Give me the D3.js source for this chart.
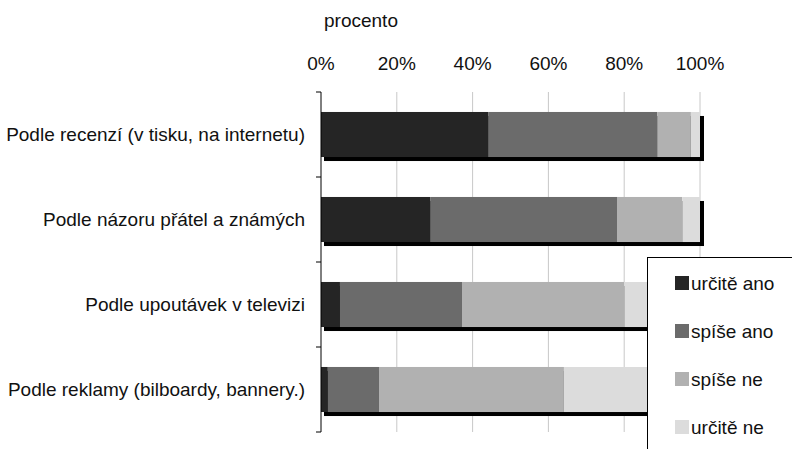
<!DOCTYPE html>
<html>
<head>
<meta charset="utf-8">
<script src="https://cdn.jsdelivr.net/npm/d3@7"></script>
<style>
  body { margin: 0; background: #fff; }
  text { font-family: "Liberation Sans", Arial, sans-serif; fill: #111; }
</style>
</head>
<body>
<div id="chart"></div>
<script>
// Data
const categories = [
  "Podle recenzí (v tisku, na internetu)",
  "Podle názoru přátel a známých",
  "Podle upoutávek v televizi",
  "Podle reklamy (bilboardy, bannery.)"
];
const seriesNames = ["určitě ano", "spíše ano", "spíše ne", "určitě ne"];
const urciteAno = [44.1, 28.8, 5.0, 1.8];
const spiseAno  = [44.6, 49.3, 32.2, 13.5];
const spiseNe   = [8.9, 17.2, 42.8, 48.8];
const urciteNe  = [2.4, 4.7, 20.0, 35.9];
const tickValues = [0, 20, 40, 60, 80, 100];
const colors = ["#252525", "#6b6b6b", "#b1b1b1", "#dcdcdc"];

const rows = categories.map((c, i) => ({
  category: c,
  "určitě ano": urciteAno[i],
  "spíše ano": spiseAno[i],
  "spíše ne": spiseNe[i],
  "určitě ne": urciteNe[i]
}));

// Dimensions
const width = 792;
const height = 449;
const margin = { top: 92, right: 92, bottom: 17, left: 321 };
const fontSize = 19;

const svg = d3.select("#chart")
  .append("svg")
    .attr("width", width)
    .attr("height", height);

const x = d3.scaleLinear()
  .domain([0, 100])
  .range([margin.left, width - margin.right]);

const y = d3.scaleBand()
  .domain(categories)
  .range([margin.top, height - margin.bottom])
  .paddingInner(0.47)
  .paddingOuter(0.235);

const color = d3.scaleOrdinal()
  .domain(seriesNames)
  .range(colors);

const stacked = d3.stack().keys(seriesNames)(rows);

// Gridlines
svg.append("g")
    .attr("stroke", "#c8c8c8")
  .selectAll("line")
  .data(tickValues.filter(d => d > 0))
  .join("line")
    .attr("x1", d => x(d))
    .attr("x2", d => x(d))
    .attr("y1", margin.top)
    .attr("y2", height - margin.bottom);

// Shadows behind bars
svg.append("g")
  .selectAll("rect")
  .data(rows)
  .join("rect")
    .attr("x", x(0) + 3)
    .attr("y", d => y(d.category) + 4)
    .attr("width", x(100) - x(0) + 1)
    .attr("height", y.bandwidth())
    .attr("fill", "#000");

// Bars
svg.append("g")
  .selectAll("g")
  .data(stacked)
  .join("g")
    .attr("fill", d => color(d.key))
  .selectAll("rect")
  .data(d => d)
  .join("rect")
    .attr("x", d => x(d[0]))
    .attr("y", d => y(d.data.category))
    .attr("width", d => x(d[1]) - x(d[0]))
    .attr("height", y.bandwidth());

// Top axis labels
svg.append("g")
  .selectAll("text")
  .data(tickValues)
  .join("text")
    .attr("x", d => x(d))
    .attr("y", 70)
    .attr("text-anchor", "middle")
    .attr("font-size", fontSize)
    .text(d => d + "%");

svg.append("text")
    .attr("x", 361)
    .attr("y", 27)
    .attr("text-anchor", "middle")
    .attr("font-size", fontSize)
    .text("procento");

// Left axis
const yAxis = svg.append("g");
yAxis.append("line")
    .attr("x1", x(0))
    .attr("x2", x(0))
    .attr("y1", margin.top)
    .attr("y2", height - margin.bottom)
    .attr("stroke", "#000");
const boundaries = categories.map(c => y(c) - y.step() * y.paddingInner() / 2);
boundaries.push(height - margin.bottom);
yAxis.selectAll(".tick-mark")
  .data([margin.top, ...boundaries.slice(1)])
  .join("line")
    .attr("class", "tick-mark")
    .attr("x1", x(0) - 5)
    .attr("x2", x(0))
    .attr("y1", d => d)
    .attr("y2", d => d)
    .attr("stroke", "#000");
yAxis.selectAll(".cat-label")
  .data(categories)
  .join("text")
    .attr("class", "cat-label")
    .attr("x", x(0) - 16)
    .attr("y", d => y(d) + y.bandwidth() / 2)
    .attr("dy", "0.35em")
    .attr("text-anchor", "end")
    .attr("font-size", fontSize)
    .text(d => d);

// Legend
const legend = svg.append("g")
    .attr("transform", "translate(647, 257)");
legend.append("rect")
    .attr("x", 0.5)
    .attr("y", 0.5)
    .attr("width", 200)
    .attr("height", 250)
    .attr("fill", "#fff")
    .attr("stroke", "#000");
const items = legend.selectAll(".legend-item")
  .data(seriesNames)
  .join("g")
    .attr("class", "legend-item")
    .attr("transform", (d, i) => `translate(28, ${26 + i * 48})`);
items.append("rect")
    .attr("x", 0)
    .attr("y", -7)
    .attr("width", 14)
    .attr("height", 14)
    .attr("fill", d => color(d));
items.append("text")
    .attr("x", 16)
    .attr("y", 0)
    .attr("dy", "0.35em")
    .attr("font-size", fontSize)
    .text(d => d);
</script>
</body>
</html>
